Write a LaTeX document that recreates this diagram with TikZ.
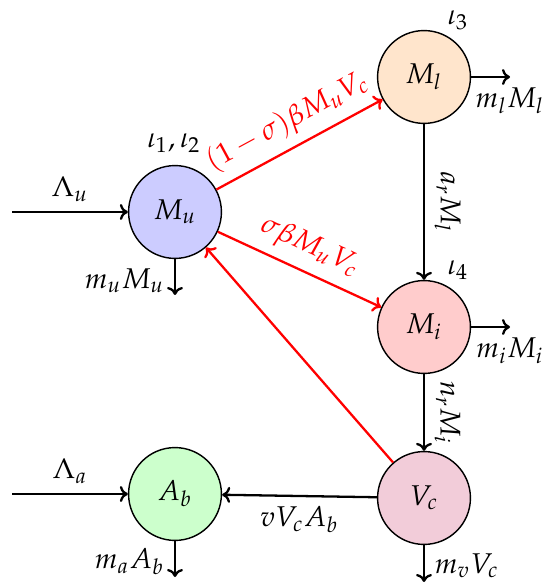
\documentclass[tikz,border=0pt]{standalone}
\usepackage{mathpazo}
\usetikzlibrary{arrows.meta}
\begin{document}
\begin{tikzpicture}[x=0.35pt,y=-0.35pt,
  >={Computer Modern Rightarrow[width=5.6pt,length=2.8pt]},
  comp/.style={circle,draw,line width=0.5pt,minimum size=32.5pt,inner sep=0pt},
  flow/.style={->,line width=0.8pt},
  inf/.style={->,line width=0.8pt,red}]
\useasboundingbox (0,0) rectangle (550,588);
\node[comp,fill=blue!20] (Mu) at (175,212) {$M_u$};
\node[comp,fill=orange!20] (Ml) at (424,77) {$M_l$};
\node[comp,fill=red!20] (Mi) at (424,327) {$M_i$};
\node[comp,fill=purple!20] (Vc) at (424,498) {$V_c$};
\node[comp,fill=green!20] (Ab) at (175,494) {$A_b$};
\coordinate (inU) at (12,212);
\coordinate (inA) at (12,494);
\coordinate (outU) at (175,295);
\coordinate (outL) at (510,77);
\coordinate (outI) at (510,327);
\coordinate (outV) at (424,582);
\coordinate (outA) at (175,577);
\draw[flow] (inU) -- node[above]{$\Lambda_u$} (Mu);
\draw[flow] (Mu) -- node[pos=0.6,left]{$m_uM_u$} (outU);
\draw[flow] (Ml) -- node[at end,below]{$m_lM_l$} (outL);
\draw[flow] (Ml) -- node[midway,above,sloped]{$a_rM_l$} (Mi);
\draw[flow] (Mi) -- node[at end,below]{$m_iM_i$} (outI);
\draw[flow] (Mi) -- node[midway,above,sloped]{$n_rM_i$} (Vc);
\draw[flow] (Vc) -- node[pos=0.55,right]{$m_vV_c$} (outV);
\draw[flow] (Vc) -- node[below]{$vV_cA_b$} (Ab);
\draw[flow] (inA) -- node[above]{$\Lambda_a$} (Ab);
\draw[flow] (Ab) -- node[pos=0.58,left]{$m_aA_b$} (outA);
\draw[inf] (Mu) -- node[above,sloped]{$(1-\sigma)\beta M_uV_c$} (Ml);
\draw[inf] (Mu) -- node[above,sloped]{$\sigma\beta M_uV_c$} (Mi);
\draw[inf] (Vc) -- (Mu);
\node (i12) at (174,143) {$\iota_1,\iota_2$};
\node (i3) at (458,20) {$\iota_3$};
\node (i4) at (458,270) {$\iota_4$};
\end{tikzpicture}
\end{document}
